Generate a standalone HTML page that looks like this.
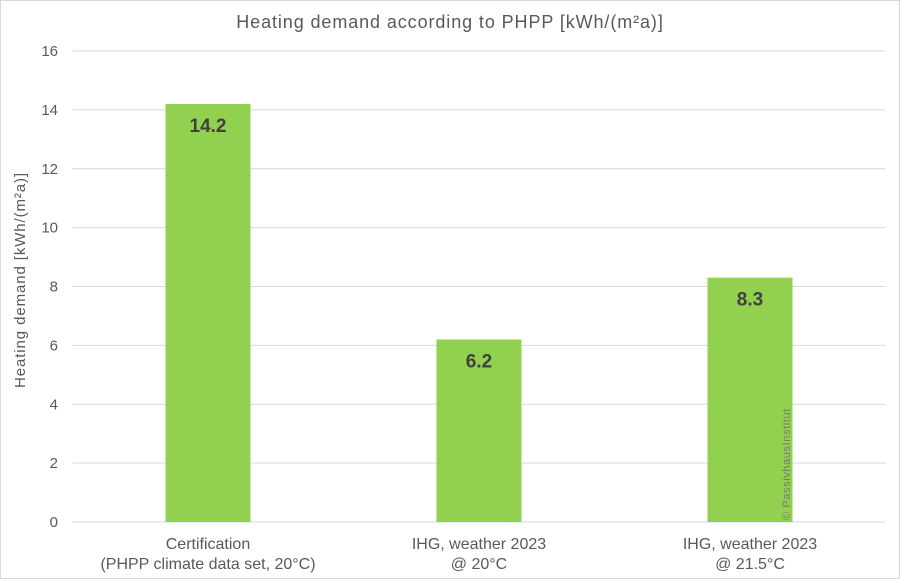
<!DOCTYPE html>
<html><head><meta charset="utf-8"><style>
body{margin:0;background:#fff}
svg{display:block;font-family:"Liberation Sans",Arial,sans-serif}
</style></head><body>
<svg id="c" width="900" height="579">
<rect x="0.5" y="0.5" width="899" height="578" fill="#fff" stroke="#d9d9d9"/>
<text x="450" y="28" text-anchor="middle" font-size="18" letter-spacing="0.9" fill="#595959">Heating demand  according to PHPP [kWh/(m²a)]</text>
<text transform="translate(25,280) rotate(-90)" text-anchor="middle" font-size="15" letter-spacing="0.9" fill="#595959">Heating demand [kWh/(m²a)]</text>
<g id="grid"></g><g id="bars"></g><g id="labels"></g>
<text transform="translate(790,520) rotate(-90)" font-size="11" letter-spacing="0.6" fill="#7a7a7a">© PassivhausInstitut</text>
</svg>
<script>
const categories=[["Certification","(PHPP climate data set, 20°C)"],["IHG, weather 2023","@ 20°C"],["IHG, weather 2023","@ 21.5°C"]];
const values=[14.2,6.2,8.3];
const valueLabels=["14.2","6.2","8.3"];
const ticks=[0,2,4,6,8,10,12,14,16];
const ns="http://www.w3.org/2000/svg";
const L=72.5,R=885.5,T=51,B=522,maxV=16;
const y=v=>B-(v/maxV)*(B-T);
const bw=(R-L)/categories.length;
const xc=i=>L+bw*(i+0.5);
function mk(t,a,p){const e=document.createElementNS(ns,t);for(const k in a)e.setAttribute(k,a[k]);p.appendChild(e);return e;}
const g=document.getElementById('grid'),b=document.getElementById('bars'),lb=document.getElementById('labels');
ticks.forEach(t=>{
 const l=mk('line',{x1:L,x2:R,y1:y(t),y2:y(t),stroke:'#d9d9d9','stroke-width':1},g);
 
 
 const tx=mk('text',{x:58,y:y(t)+5,'text-anchor':'end','font-size':15,fill:'#595959'},g);
 tx.textContent=t;
 
 
});
values.forEach((v,i)=>{
 const w=85;
 const r=mk('rect',{x:xc(i)-w/2,y:y(v),width:w,height:B-y(v),fill:'#92d050'},b);
 
 
 const vl=mk('text',{x:xc(i),y:y(v)+28,'text-anchor':'middle','font-size':19,'font-weight':'bold',fill:'#404040'},lb);
 vl.textContent=valueLabels[i];
 
 
 categories[i].forEach((s,j)=>{
  const c=mk('text',{x:xc(i),y:549+j*20,'text-anchor':'middle','font-size':16,fill:'#595959'},lb);
  c.textContent=s;
  
  
 });
});
</script>
</body></html>
